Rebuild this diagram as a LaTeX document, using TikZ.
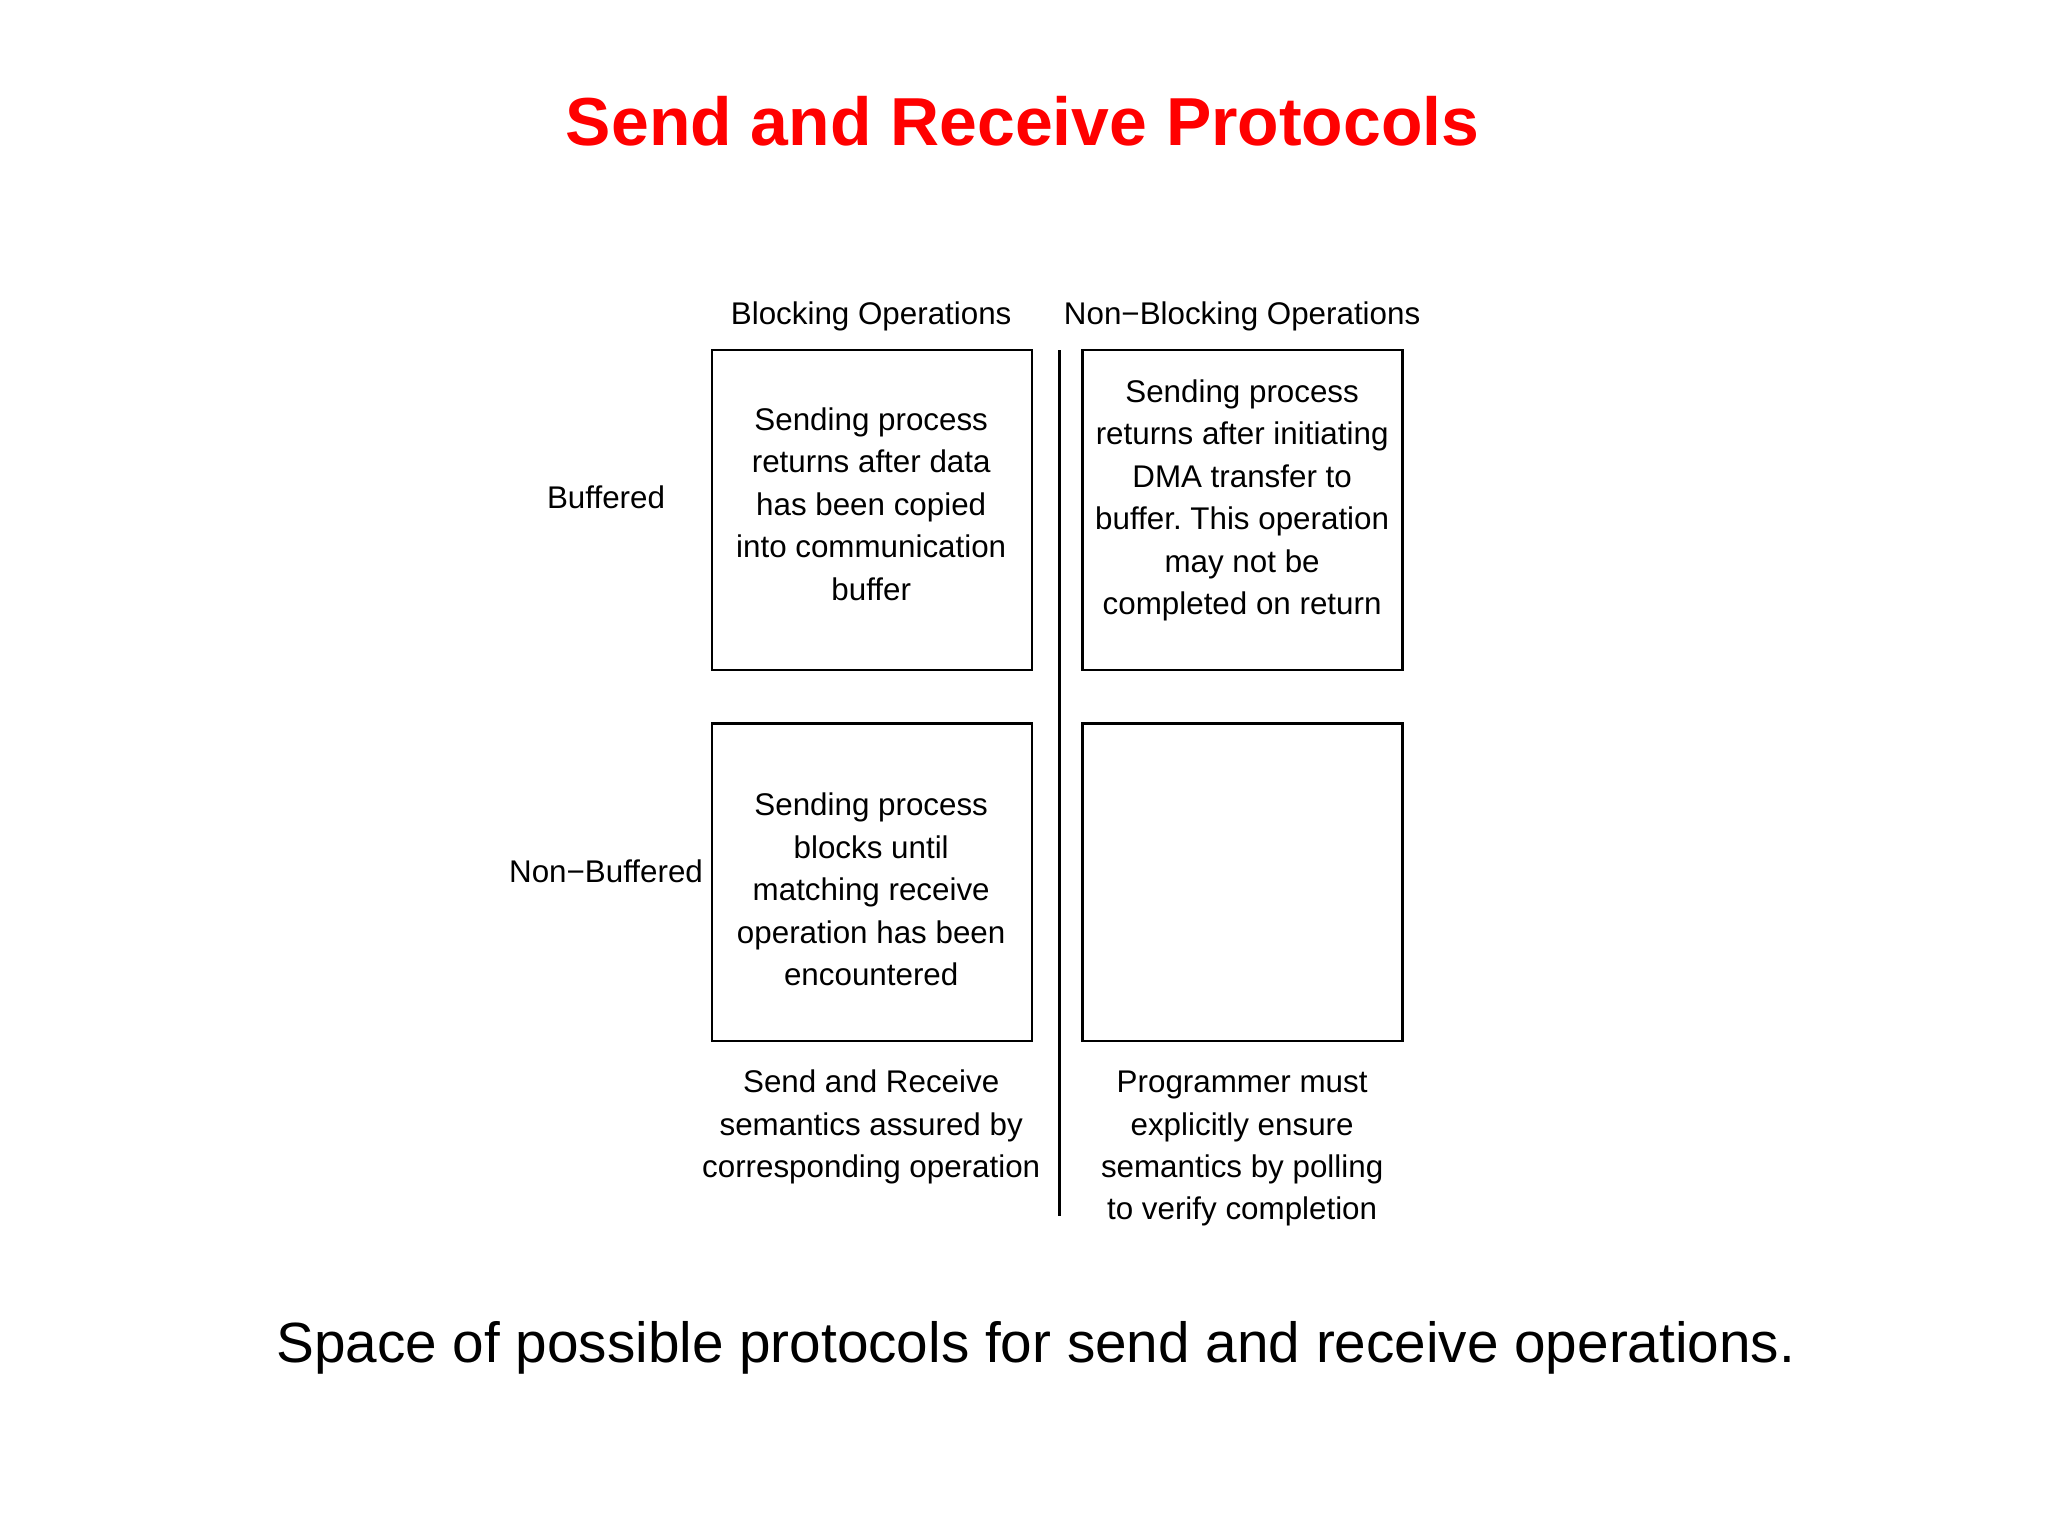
\documentclass[tikz,border=0pt]{standalone}
\usepackage{fontspec}
\setmainfont{Liberation Sans}
\frenchspacing
\begin{document}
\begin{tikzpicture}[x=1pt,y=-1pt,
  cell/.style={draw=black, line width=2pt, minimum width=245pt, minimum height=245pt, inner sep=0pt},
  celltext/.style={align=center, font=\fontsize{24}{32.5}\selectfont, inner sep=0pt},
  lbl/.style={font=\fontsize{24}{32.5}\selectfont, inner sep=0pt}]
\useasboundingbox[fill=white] (0,0) rectangle (1568,1176);
\node[font=\bfseries\fontsize{52}{60}\selectfont, text=red, inner sep=0pt] (title) at (783,93) {Send and Receive Protocols};
\node[lbl] (hb) at (667,242) {Blocking Operations};
\node[lbl] (hnb) at (951,242) {Non−Blocking Operations};
\node[lbl] (rb) at (464,381) {Buffered};
\node[lbl] (rnb) at (464,667) {Non−Buffered};
\node[cell, minimum height=245pt] (b1) at (667.5,390.5) {};
\node[cell, minimum height=245pt] (b2) at (951.5,390.5) {};
\node[cell, minimum height=243pt] (b3) at (667.5,675.5) {};
\node[cell, minimum height=243pt] (b4) at (951.5,675.5) {};
\coordinate (vtop) at (811,268);
\coordinate (vbot) at (811,931);
\draw[line width=2pt] (vtop) -- (vbot);
\node[celltext] (t1) at (667,386) {Sending process\\returns after data\\has been copied\\into communication\\buffer};
\node[celltext] (t2) at (951,383) {Sending process\\returns after initiating\\DMA transfer to\\buffer. This operation\\may not be\\completed on return};
\node[celltext] (t3) at (667,681) {Sending process\\blocks until\\matching receive\\operation has been\\encountered};
\node[celltext] (s1) at (667,863) {Send and Receive\\semantics assured by\\corresponding operation};
\node[celltext] (s2) at (951,879.5) {Programmer must\\explicitly ensure\\semantics by polling\\to verify completion};
\node[font=\fontsize{43.4}{50}\selectfont, inner sep=0pt] (cap) at (793,1032) {Space of possible protocols for send and receive operations.};
\end{tikzpicture}
\end{document}
